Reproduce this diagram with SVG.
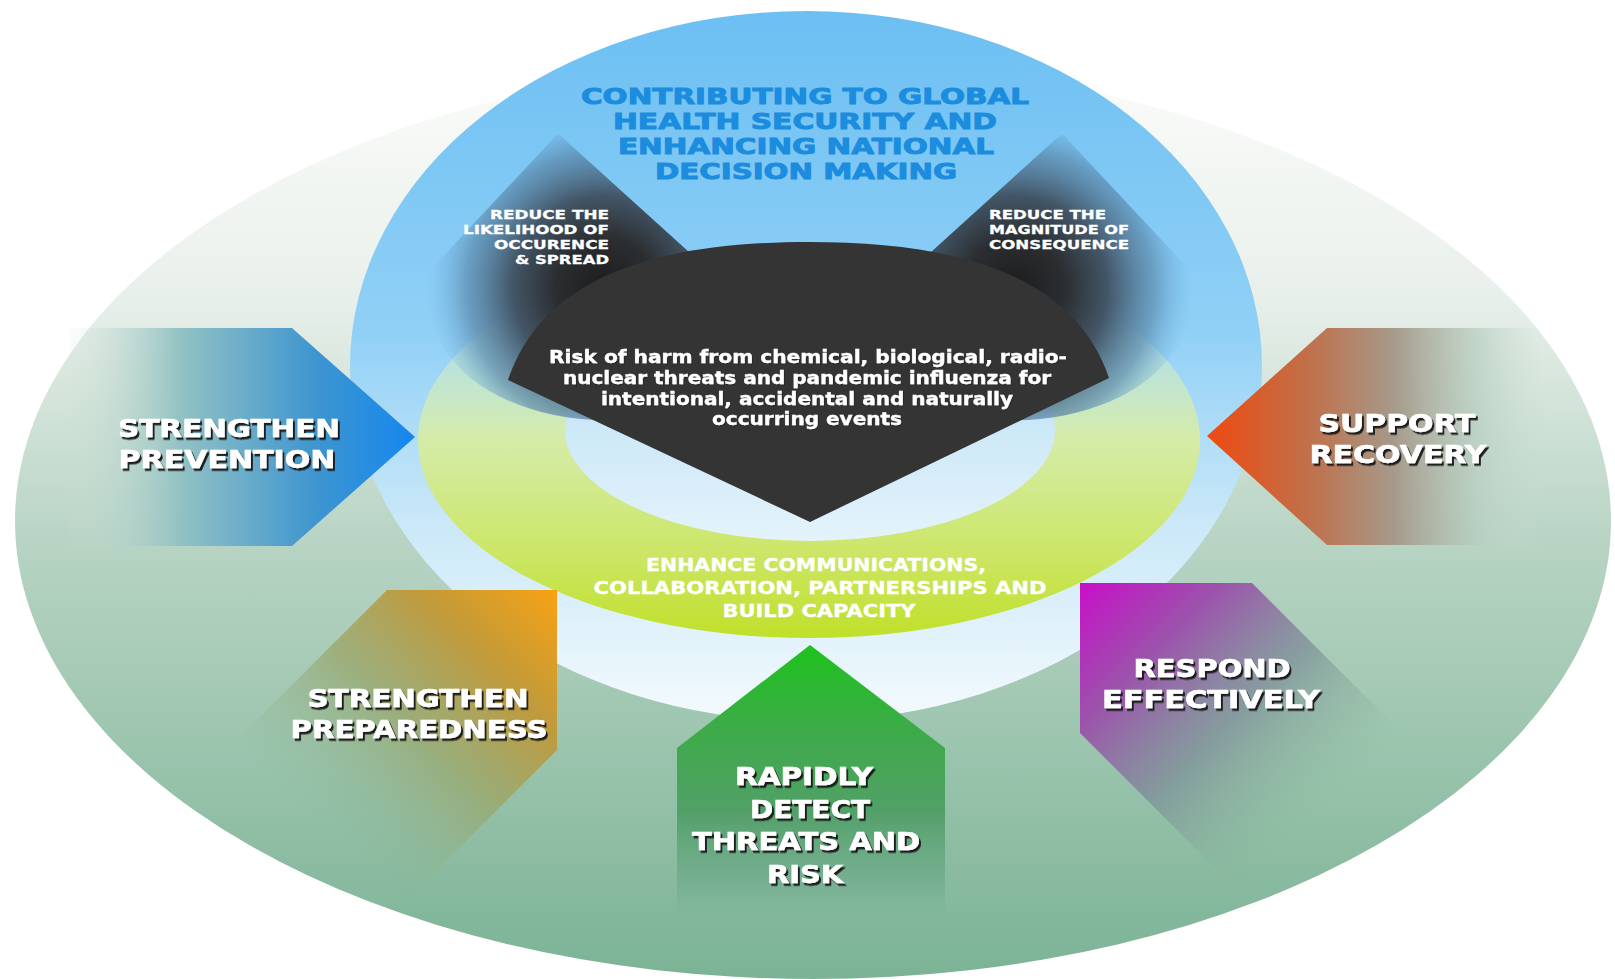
<svg xmlns="http://www.w3.org/2000/svg" width="1615" height="979" viewBox="0 0 1615 979">
  <defs>
    <linearGradient id="gOuter" x1="0" y1="62" x2="0" y2="979" gradientUnits="userSpaceOnUse">
      <stop offset="0" stop-color="#fbfcfa"/>
      <stop offset="0.25" stop-color="#e9f0eb"/>
      <stop offset="0.52" stop-color="#b8d4c4"/>
      <stop offset="1" stop-color="#7bb395"/>
    </linearGradient>
    <linearGradient id="gBlue" x1="0" y1="11" x2="0" y2="721" gradientUnits="userSpaceOnUse">
      <stop offset="0" stop-color="#6cbff3"/>
      <stop offset="0.45" stop-color="#90d0f6"/>
      <stop offset="0.72" stop-color="#cae8f8"/>
      <stop offset="1" stop-color="#f4fafd"/>
    </linearGradient>
    <linearGradient id="gRing" x1="0" y1="250" x2="0" y2="638" gradientUnits="userSpaceOnUse">
      <stop offset="0" stop-color="#a8dcf0" stop-opacity="0"/>
      <stop offset="0.28" stop-color="#c4e6d6" stop-opacity="0.75"/>
      <stop offset="0.48" stop-color="#d4ecaa"/>
      <stop offset="0.75" stop-color="#cde76e"/>
      <stop offset="1" stop-color="#c0e02a"/>
    </linearGradient>
    <linearGradient id="gInner" x1="0" y1="320" x2="0" y2="541" gradientUnits="userSpaceOnUse">
      <stop offset="0" stop-color="#b6def4"/>
      <stop offset="1" stop-color="#e4f3fb"/>
    </linearGradient>
    <radialGradient id="gConeL" cx="605" cy="288" r="178" gradientUnits="userSpaceOnUse">
      <stop offset="0" stop-color="#1c1c1c"/>
      <stop offset="0.28" stop-color="#2b2e31"/>
      <stop offset="0.52" stop-color="#435667"/>
      <stop offset="0.78" stop-color="#5c8aad" stop-opacity="0.7"/>
      <stop offset="1" stop-color="#72b6e6" stop-opacity="0"/>
    </radialGradient>
    <radialGradient id="gConeR" cx="1015" cy="288" r="178" gradientUnits="userSpaceOnUse">
      <stop offset="0" stop-color="#1c1c1c"/>
      <stop offset="0.28" stop-color="#2b2e31"/>
      <stop offset="0.52" stop-color="#435667"/>
      <stop offset="0.78" stop-color="#5c8aad" stop-opacity="0.7"/>
      <stop offset="1" stop-color="#72b6e6" stop-opacity="0"/>
    </radialGradient>
    <linearGradient id="gPrev" x1="78" y1="0" x2="415" y2="0" gradientUnits="userSpaceOnUse">
      <stop offset="0" stop-color="#c9ddd2" stop-opacity="0.1"/>
      <stop offset="0.3" stop-color="#93c2c4"/>
      <stop offset="0.7" stop-color="#3f96cf"/>
      <stop offset="1" stop-color="#1586ef"/>
    </linearGradient>
    <linearGradient id="gSupp" x1="1207" y1="0" x2="1545" y2="0" gradientUnits="userSpaceOnUse">
      <stop offset="0" stop-color="#ef4a10"/>
      <stop offset="0.3" stop-color="#c0704a"/>
      <stop offset="0.55" stop-color="#a6998a"/>
      <stop offset="0.8" stop-color="#b6cdbf" stop-opacity="0.7"/>
      <stop offset="1" stop-color="#c8dcd0" stop-opacity="0"/>
    </linearGradient>
    <linearGradient id="gPrep" x1="557" y1="590" x2="320" y2="827" gradientUnits="userSpaceOnUse">
      <stop offset="0" stop-color="#f8a212"/>
      <stop offset="0.3" stop-color="#c09a3c"/>
      <stop offset="0.6" stop-color="#99a66a" stop-opacity="0.75"/>
      <stop offset="1" stop-color="#8ab89a" stop-opacity="0"/>
    </linearGradient>
    <linearGradient id="gResp" x1="1080" y1="583" x2="1315" y2="818" gradientUnits="userSpaceOnUse">
      <stop offset="0" stop-color="#c80fc8"/>
      <stop offset="0.3" stop-color="#9c52ac"/>
      <stop offset="0.62" stop-color="#7d8f98" stop-opacity="0.75"/>
      <stop offset="1" stop-color="#8ab89a" stop-opacity="0"/>
    </linearGradient>
    <linearGradient id="gDet" x1="0" y1="645" x2="0" y2="925" gradientUnits="userSpaceOnUse">
      <stop offset="0" stop-color="#1ec21e"/>
      <stop offset="0.3" stop-color="#3cab48"/>
      <stop offset="0.6" stop-color="#52a068"/>
      <stop offset="0.85" stop-color="#6aa888" stop-opacity="0.6"/>
      <stop offset="1" stop-color="#7bb395" stop-opacity="0"/>
    </linearGradient>
    <filter id="sh" x="-10%" y="-30%" width="120%" height="160%">
      <feDropShadow dx="2" dy="2.5" stdDeviation="0.5" flood-color="#151515" flood-opacity="0.95"/>
    </filter>
    <filter id="shs" x="-10%" y="-30%" width="120%" height="160%">
      <feDropShadow dx="0.8" dy="0.8" stdDeviation="0.6" flood-color="#222" flood-opacity="0.6"/>
    </filter>
    <style>
      text { font-family: "DejaVu Sans", "Liberation Sans", sans-serif; font-weight: bold; }
      .title { fill: #1b8cde; font-size: 21.5px; text-anchor: middle; stroke: #1b8cde; stroke-width: 0.9; }
      .small { fill: #ffffff; font-size: 13px; stroke: #ffffff; stroke-width: 0.3; }
      .risk { fill: #ffffff; font-size: 17px; text-anchor: middle; stroke: #ffffff; stroke-width: 0.35; filter: url(#shs); }
      .enh { fill: #ffffff; font-size: 17px; text-anchor: middle; stroke: #ffffff; stroke-width: 0.3; }
      .lbl { fill: #ffffff; font-size: 25px; text-anchor: middle; stroke: #ffffff; stroke-width: 0.6; filter: url(#sh); }
    </style>
  </defs>

  <rect width="1615" height="979" fill="#ffffff"/>

  <g id="background">
    <ellipse cx="813" cy="521" rx="798" ry="458" fill="url(#gOuter)"/>
    <ellipse cx="806" cy="366" rx="456" ry="355" fill="url(#gBlue)"/>
    <ellipse cx="809" cy="440" rx="391" ry="198" fill="url(#gRing)"/>
    <ellipse cx="810" cy="430" rx="245" ry="111" fill="url(#gInner)"/>
    <path d="M552,140 Q557,131 563,138 L700,262 L705,400 C620,440 490,420 445,350 C420,310 420,285 432,268 Z" fill="url(#gConeL)"/>
    <path d="M1068,140 Q1063,131 1057,138 L920,262 L915,400 C1000,440 1130,420 1175,350 C1200,310 1200,285 1188,268 Z" fill="url(#gConeR)"/>
  </g>

  <g id="title">
    <text class="title" x="805" y="104" textLength="448" lengthAdjust="spacingAndGlyphs">CONTRIBUTING TO GLOBAL</text>
    <text class="title" x="805" y="129" textLength="384" lengthAdjust="spacingAndGlyphs">HEALTH SECURITY AND</text>
    <text class="title" x="806" y="154" textLength="376" lengthAdjust="spacingAndGlyphs">ENHANCING NATIONAL</text>
    <text class="title" x="806" y="179" textLength="302" lengthAdjust="spacingAndGlyphs">DECISION MAKING</text>
  </g>

  <g id="reduce-likelihood">
    <text class="small" x="609" y="219" text-anchor="end" textLength="119" lengthAdjust="spacingAndGlyphs">REDUCE THE</text>
    <text class="small" x="609" y="234" text-anchor="end" textLength="146" lengthAdjust="spacingAndGlyphs">LIKELIHOOD OF</text>
    <text class="small" x="609" y="249" text-anchor="end" textLength="115" lengthAdjust="spacingAndGlyphs">OCCURENCE</text>
    <text class="small" x="609" y="264" text-anchor="end" textLength="94" lengthAdjust="spacingAndGlyphs">&amp; SPREAD</text>
  </g>

  <g id="reduce-magnitude">
    <text class="small" x="989" y="219" textLength="117" lengthAdjust="spacingAndGlyphs">REDUCE THE</text>
    <text class="small" x="989" y="234" textLength="140" lengthAdjust="spacingAndGlyphs">MAGNITUDE OF</text>
    <text class="small" x="989" y="249" textLength="140" lengthAdjust="spacingAndGlyphs">CONSEQUENCE</text>
  </g>

  <g id="risk">
    <path d="M508,380 C545,270 670,242 809,242 C948,242 1072,270 1109,378 L810,522 Z" fill="#343434"/>
    <text class="risk" x="808" y="363" textLength="518" lengthAdjust="spacingAndGlyphs">Risk of harm from chemical, biological, radio-</text>
    <text class="risk" x="807" y="384" textLength="488" lengthAdjust="spacingAndGlyphs">nuclear threats and pandemic influenza for</text>
    <text class="risk" x="807" y="405" textLength="412" lengthAdjust="spacingAndGlyphs">intentional, accidental and naturally</text>
    <text class="risk" x="807" y="425" textLength="190" lengthAdjust="spacingAndGlyphs">occurring events</text>
  </g>

  <g id="enhance">
    <text class="enh" x="816" y="571" textLength="340" lengthAdjust="spacingAndGlyphs">ENHANCE COMMUNICATIONS,</text>
    <text class="enh" x="820" y="594" textLength="453" lengthAdjust="spacingAndGlyphs">COLLABORATION, PARTNERSHIPS AND</text>
    <text class="enh" x="819" y="617" textLength="193" lengthAdjust="spacingAndGlyphs">BUILD CAPACITY</text>
  </g>

  <g id="strengthen-prevention">
    <polygon points="70,328 292,328 415,437 292,546 70,546" fill="url(#gPrev)"/>
    <text class="lbl" x="229" y="437" textLength="222" lengthAdjust="spacingAndGlyphs">STRENGTHEN</text>
    <text class="lbl" x="227" y="468" textLength="217" lengthAdjust="spacingAndGlyphs">PREVENTION</text>
  </g>

  <g id="support-recovery">
    <polygon points="1550,328 1327,328 1207,436 1327,545 1550,545" fill="url(#gSupp)"/>
    <text class="lbl" x="1397" y="432" textLength="157" lengthAdjust="spacingAndGlyphs">SUPPORT</text>
    <text class="lbl" x="1398" y="463" textLength="177" lengthAdjust="spacingAndGlyphs">RECOVERY</text>
  </g>

  <g id="strengthen-preparedness">
    <polygon points="557,590 387,590 222,755 392,915 557,750" fill="url(#gPrep)"/>
    <text class="lbl" x="418" y="707" textLength="221" lengthAdjust="spacingAndGlyphs">STRENGTHEN</text>
    <text class="lbl" x="419" y="738" textLength="257" lengthAdjust="spacingAndGlyphs">PREPAREDNESS</text>
  </g>

  <g id="respond-effectively">
    <polygon points="1080,583 1252,583 1412,743 1240,893 1080,733" fill="url(#gResp)"/>
    <text class="lbl" x="1212" y="677" textLength="157" lengthAdjust="spacingAndGlyphs">RESPOND</text>
    <text class="lbl" x="1211" y="708" textLength="218" lengthAdjust="spacingAndGlyphs">EFFECTIVELY</text>
  </g>

  <g id="rapidly-detect">
    <polygon points="810,645 945,748 945,925 677,925 677,748" fill="url(#gDet)"/>
    <text class="lbl" x="804" y="785" textLength="138" lengthAdjust="spacingAndGlyphs">RAPIDLY</text>
    <text class="lbl" x="810" y="818" textLength="120" lengthAdjust="spacingAndGlyphs">DETECT</text>
    <text class="lbl" x="806" y="850" textLength="228" lengthAdjust="spacingAndGlyphs">THREATS AND</text>
    <text class="lbl" x="805" y="883" textLength="76" lengthAdjust="spacingAndGlyphs">RISK</text>
  </g>

  <g id="connectors"></g>
</svg>
